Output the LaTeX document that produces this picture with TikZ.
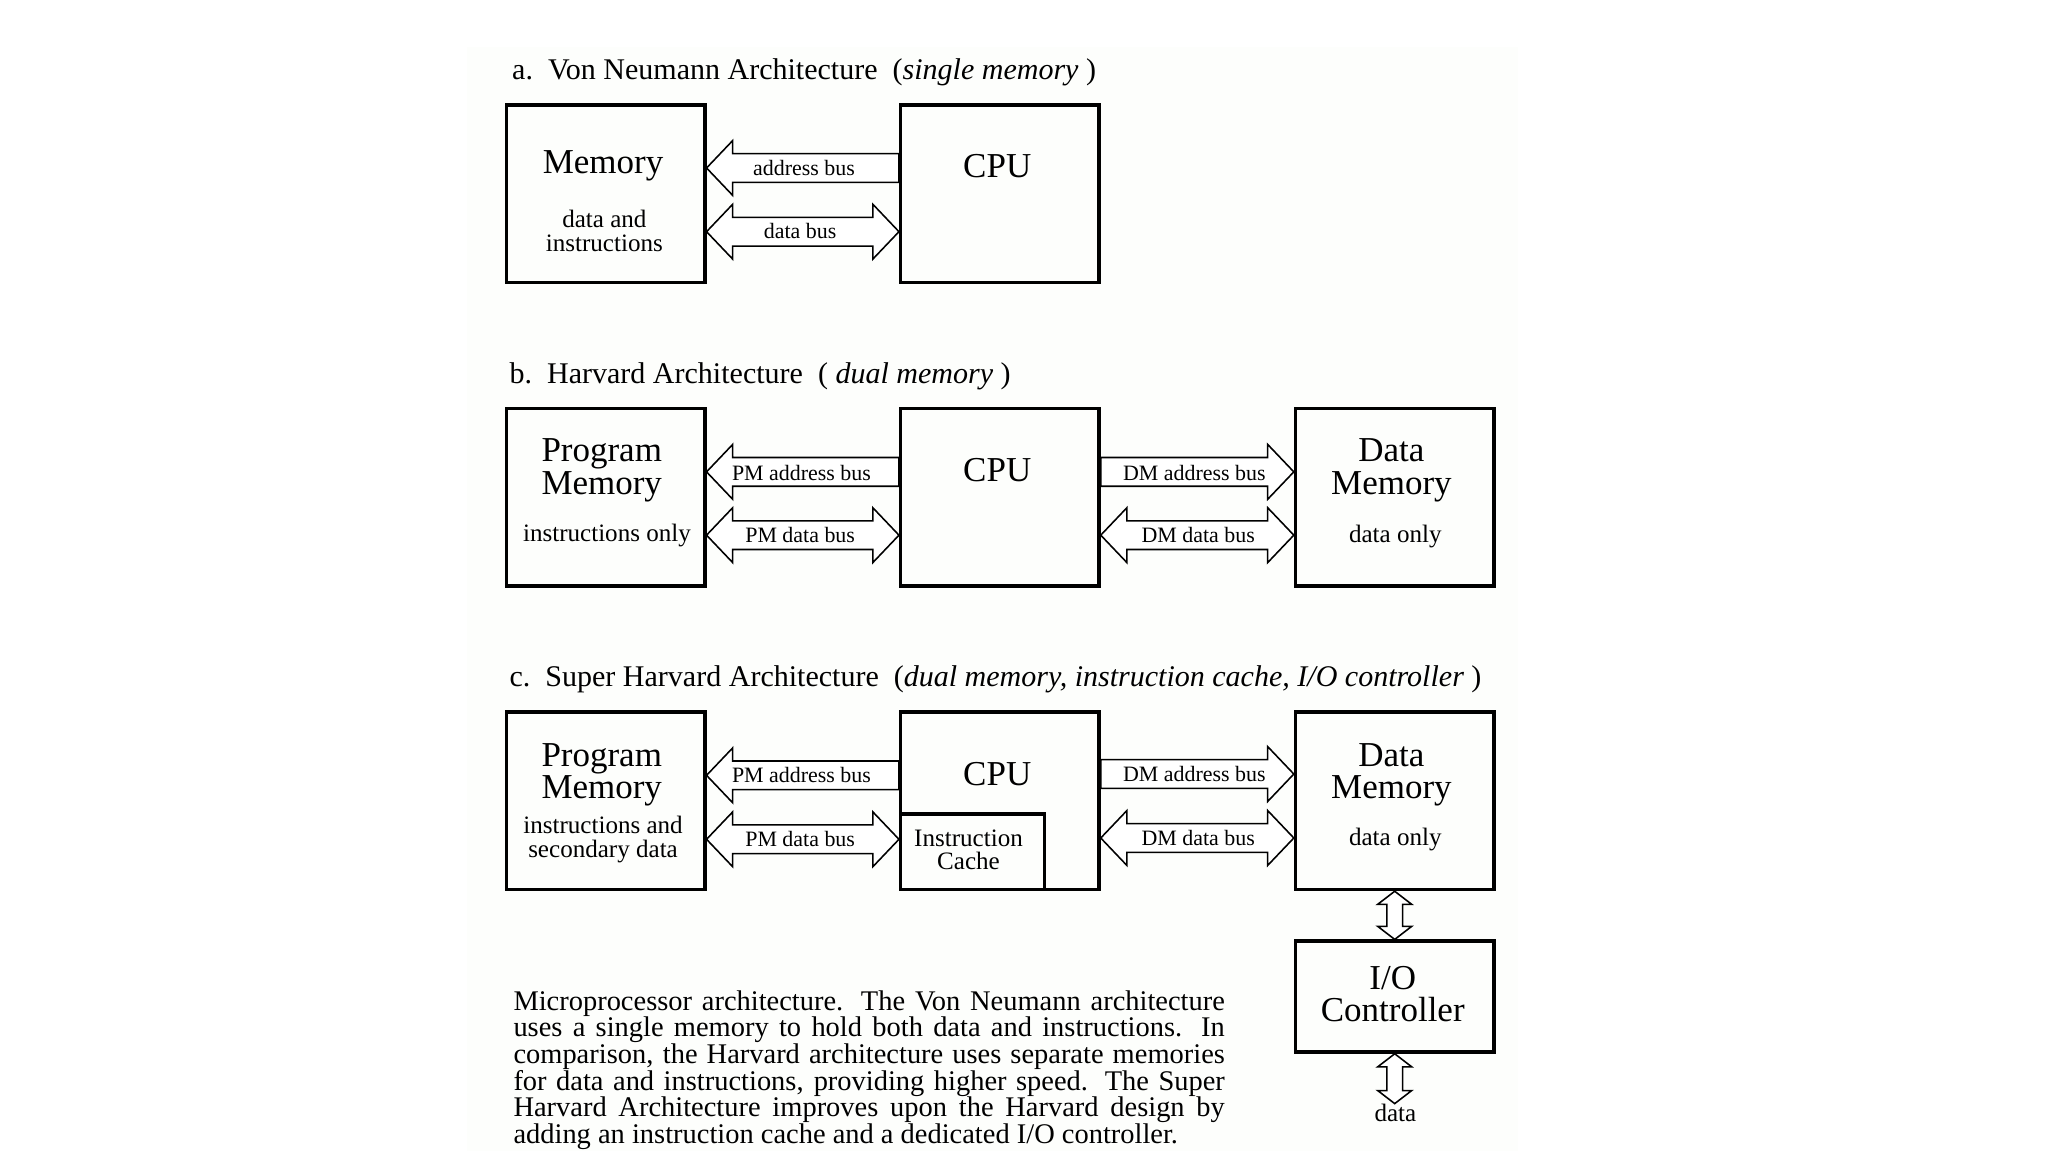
\documentclass[tikz,border=0pt]{standalone}
\usepackage{fontspec}
\setmainfont{Liberation Serif}
\usetikzlibrary{calc}
\definecolor{paper}{RGB}{253,254,252}
\tikzset{
  Block/.style={draw, line width=1.3pt, inner sep=0pt, minimum width=76pt, minimum height=68pt}, % Bloecke
  Bus/.style={draw, line width=.6pt, fill=white, line join=miter}, % Busse
  Title/.style={anchor=base west, inner sep=0pt, font=\fontsize{11.5}{13}\selectfont},
  BigLabel/.style={inner sep=0pt, align=center, font=\fontsize{13.4}{12.5}\selectfont},
  SmallLabel/.style={inner sep=0pt, align=center, font=\fontsize{9.6}{9}\selectfont},
  BusLabel/.style={inner sep=0pt, font=\fontsize{8.4}{10}\selectfont},
  Caption/.style={anchor=base west, inner sep=0pt, text width=272.5pt, align=justify,
    font=\fontsize{10.9}{10.2}\selectfont}
}
% Bus nach links: #1 Spitze, #2 Ende
\newcommand{\BusL}[2]{\draw[Bus] let \p1=(#1), \p2=(#2) in
  (\x1,\y1) -- (\x1+10pt,\y1+10.5pt) -- (\x1+10pt,\y1+5.5pt) -- (\x2,\y1+5.5pt)
  -- (\x2,\y1-5.5pt) -- (\x1+10pt,\y1-5.5pt) -- (\x1+10pt,\y1-10.5pt) -- cycle;}
% Bus nach rechts: #1 Ende, #2 Spitze
\newcommand{\BusR}[2]{\draw[Bus] let \p1=(#1), \p2=(#2) in
  (\x2,\y2) -- (\x2-10pt,\y2+10.5pt) -- (\x2-10pt,\y2+5.5pt) -- (\x1,\y2+5.5pt)
  -- (\x1,\y2-5.5pt) -- (\x2-10pt,\y2-5.5pt) -- (\x2-10pt,\y2-10.5pt) -- cycle;}
% Bus in beide Richtungen
\newcommand{\BusD}[2]{\draw[Bus] let \p1=(#1), \p2=(#2) in
  (\x1,\y1) -- (\x1+10pt,\y1+10.5pt) -- (\x1+10pt,\y1+5.5pt) -- (\x2-10pt,\y1+5.5pt)
  -- (\x2-10pt,\y1+10.5pt) -- (\x2,\y1) -- (\x2-10pt,\y1-10.5pt) -- (\x2-10pt,\y1-5.5pt)
  -- (\x1+10pt,\y1-5.5pt) -- (\x1+10pt,\y1-10.5pt) -- cycle;}
% senkrecht, beide Richtungen: #1 oben, #2 unten
\newcommand{\BusV}[2]{\draw[Bus] let \p1=(#1), \p2=(#2) in
  (\x1,\y1) -- (\x1+6.5pt,\y1-5pt) -- (\x1+3pt,\y1-5pt) -- (\x1+3pt,\y2+5pt)
  -- (\x1+6.5pt,\y2+5pt) -- (\x1,\y2) -- (\x1-6.5pt,\y2+5pt) -- (\x1-3pt,\y2+5pt)
  -- (\x1-3pt,\y1-5pt) -- (\x1-6.5pt,\y1-5pt) -- cycle;}

\begin{document}
\begin{tikzpicture}[x=.5pt, y=-.5pt]
\useasboundingbox (0,0) rectangle (1569,882);
\fill[paper] (358,36) rectangle (1163,882);

%Von Neumann
\node[Title] (titleA) at (392,61) {a.\ \ Von Neumann Architecture\ \ (\textit{single memory} )};
\node[Block] (memA) at (464,148.5) {};
\node[Block] (cpuA) at (766,148.5) {};
\node[BigLabel] (memAtext) at (462,127) {Memory};
\node[SmallLabel] (memAsub) at (463,177) {data and\\instructions};
\node[BigLabel] (cpuAtext) at (764,127) {CPU};

\BusL{memA.east |- 0,128.7}{cpuA.west |- 0,128.7}
\BusD{memA.east |- 0,177.5}{cpuA.west |- 0,177.5}
\node[BusLabel] (addrA) at (616,129) {address bus};
\node[BusLabel] (dataA) at (613,177) {data bus};

%Harvard
\node[Title] (titleB) at (390,294) {b.\ \ Harvard Architecture\ \ ( \textit{dual memory} )};
\node[Block] (pmB) at (464,381) {};
\node[Block] (cpuB) at (766,381) {};
\node[Block] (dmB) at (1068.5,381) {};
\node[BigLabel] (pmBtext) at (461,360.5) {Program\\Memory};
\node[SmallLabel] (pmBsub) at (465,410) {instructions only};
\node[BigLabel] (cpuBtext) at (764,360) {CPU};
\node[BigLabel] (dmBtext) at (1066,360.5) {Data\\Memory};
\node[SmallLabel] (dmBsub) at (1069,411) {data only};

\BusL{pmB.east |- 0,361.5}{cpuB.west |- 0,361.5}
\BusD{pmB.east |- 0,410}{cpuB.west |- 0,410}
\BusR{cpuB.east |- 0,361.5}{dmB.west |- 0,361.5}
\BusD{cpuB.east |- 0,410}{dmB.west |- 0,410}
\node[BusLabel] (pmaB) at (614,362) {PM address bus};
\node[BusLabel] (pmdB) at (613,410) {PM data bus};
\node[BusLabel] (dmaB) at (915,362) {DM address bus};
\node[BusLabel] (dmdB) at (918,410) {DM data bus};

%Super Harvard
\node[Title] (titleC) at (390,526) {c.\ \ Super Harvard Architecture\ \ (\textit{dual memory, instruction cache, I/O controller} )};
\node[Block] (pmC) at (464,613.5) {};
\node[Block] (cpuC) at (766,613.5) {};
\node[Block] (dmC) at (1068.5,613.5) {};
\node[Block, anchor=south west, minimum width=55pt, minimum height=29pt] (cacheC) at (cpuC.south west) {};
\node[Block, minimum height=42.5pt] (ioC) at (1068.5,763.5) {};
\node[BigLabel] (pmCtext) at (461,593.5) {Program\\Memory};
\node[SmallLabel] (pmCsub) at (462,643) {instructions and\\secondary data};
\node[BigLabel] (cpuCtext) at (764,593) {CPU};
\node[SmallLabel] (cacheCtext) at (742,651) {Instruction\\Cache};
\node[BigLabel] (dmCtext) at (1066,593.5) {Data\\Memory};
\node[SmallLabel] (dmCsub) at (1069,643) {data only};
\node[BigLabel] (ioCtext) at (1067,761.5) {I/O\\Controller};

\BusL{pmC.east |- 0,594}{cpuC.west |- 0,594}
\BusD{pmC.east |- 0,643}{cpuC.west |- 0,643}
\BusR{cpuC.east |- 0,593}{dmC.west |- 0,593}
\BusD{cpuC.east |- 0,642}{dmC.west |- 0,642}
\node[BusLabel] (pmaC) at (614,594) {PM address bus};
\node[BusLabel] (pmdC) at (613,643) {PM data bus};
\node[BusLabel] (dmaC) at (915,593) {DM address bus};
\node[BusLabel] (dmdC) at (918,642) {DM data bus};

%I/O
\coordinate (dataEnd) at (1068.5,845.5);
\BusV{dmC.south}{ioC.north}
\BusV{ioC.south}{dataEnd}
\node[SmallLabel] (dataText) at (1069,853) {data};

%Text
\node[Caption] (caption) at (393,774) {Microprocessor architecture.  The Von Neumann architecture\linebreak
uses a single memory to hold both data and instructions.  In\linebreak
comparison, the Harvard architecture uses separate memories\linebreak
for data and instructions, providing higher speed.  The Super\linebreak
Harvard Architecture improves upon the Harvard design by\linebreak
adding an instruction cache and a dedicated I/O controller.};
\end{tikzpicture}
\end{document}
